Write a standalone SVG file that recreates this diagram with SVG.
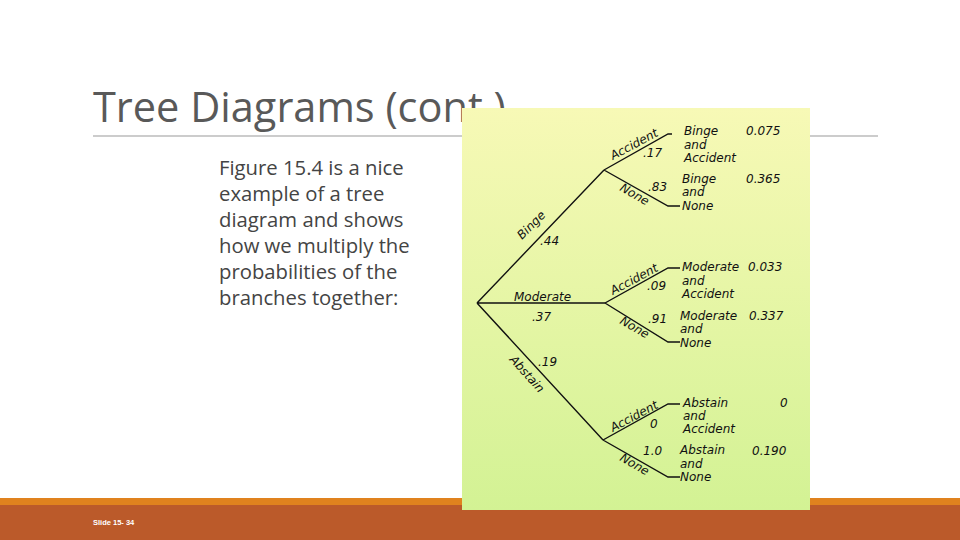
<svg xmlns="http://www.w3.org/2000/svg" width="960" height="540" viewBox="0 0 960 540">
<defs>
<linearGradient id="g" x1="0" y1="0" x2="0" y2="1"><stop offset="0" stop-color="#f7f9b6"/><stop offset="1" stop-color="#d3f294"/></linearGradient>
<style>
.h{font-family:"DejaVu Sans",sans-serif;font-style:italic;font-size:12px;fill:#111}
.b{font-family:"Open Sans","Liberation Sans",sans-serif;font-size:20.3px;fill:#444}
.l{stroke:#111;stroke-width:1.4;fill:none}
</style>
</defs>
<rect width="960" height="540" fill="#fff"/>
<text x="93" y="122" font-family="Open Sans,Liberation Sans,sans-serif" font-size="41.5" fill="#595959">Tree Diagrams (cont.)</text>
<line x1="93" y1="136" x2="878" y2="136" stroke="#999" stroke-width="1"/>
<g id="body" class="b">
<text x="219" y="175">Figure 15.4 is a nice</text>
<text x="219" y="201">example of a tree</text>
<text x="219" y="227">diagram and shows</text>
<text x="219" y="253">how we multiply the</text>
<text x="219" y="279">probabilities of the</text>
<text x="219" y="305">branches together:</text>
</g>
<rect x="0" y="498" width="960" height="8" fill="#e0821e"/>
<rect x="0" y="505" width="960" height="35" fill="#bb5a2a"/>
<text x="93" y="525" font-family="Liberation Sans,sans-serif" font-size="7.5" fill="#fff" font-weight="bold">Slide 15- 34</text>
<rect x="462" y="108" width="348" height="402" fill="url(#g)"/>
<g id="connectors">
<path class="l" d="M477 303 L604 170 M477 303 L605 303 M477 303 L603 440"/>
<path class="l" d="M604 170 L668 134 L672 134 M604 170 L668 206 L680 206"/>
<path class="l" d="M605 303 L668 268 L680 268 M605 303 L668 342 L680 342"/>
<path class="l" d="M603 440 L668 404 L680 404 M603 440 L668 477 L680 477"/>
</g>
<g id="labels" class="h">
<text transform="translate(522,240) rotate(-45)">Binge</text>
<text x="540" y="245">.44</text>
<text x="514" y="301">Moderate</text>
<text x="532" y="321">.37</text>
<text x="538" y="366">.19</text>
<text transform="translate(509,360) rotate(48)">Abstain</text>
<text transform="translate(613,160) rotate(-28)">Accident</text>
<text x="643" y="157">.17</text>
<text transform="translate(619,190) rotate(30)">None</text>
<text x="648" y="191">.83</text>
<text transform="translate(613,295) rotate(-28)">Accident</text>
<text x="647" y="290">.09</text>
<text transform="translate(619,323) rotate(30)">None</text>
<text x="648" y="323">.91</text>
<text transform="translate(613,432) rotate(-28)">Accident</text>
<text x="650" y="428">0</text>
<text transform="translate(619,460) rotate(30)">None</text>
<text x="643" y="455">1.0</text>
</g>
<g id="outcomes" class="h">
<text x="684" y="135">Binge</text><text x="684" y="149">and</text><text x="684" y="162">Accident</text><text x="746" y="135">0.075</text>
<text x="682" y="183">Binge</text><text x="682" y="196">and</text><text x="682" y="210">None</text><text x="746" y="183">0.365</text>
<text x="682" y="271">Moderate</text><text x="682" y="285">and</text><text x="682" y="298">Accident</text><text x="748" y="271">0.033</text>
<text x="680" y="320">Moderate</text><text x="680" y="333">and</text><text x="680" y="347">None</text><text x="749" y="320">0.337</text>
<text x="683" y="407">Abstain</text><text x="683" y="420">and</text><text x="683" y="433">Accident</text><text x="780" y="407">0</text>
<text x="680" y="454">Abstain</text><text x="680" y="468">and</text><text x="680" y="481">None</text><text x="752" y="455">0.190</text>
</g>
</svg>
